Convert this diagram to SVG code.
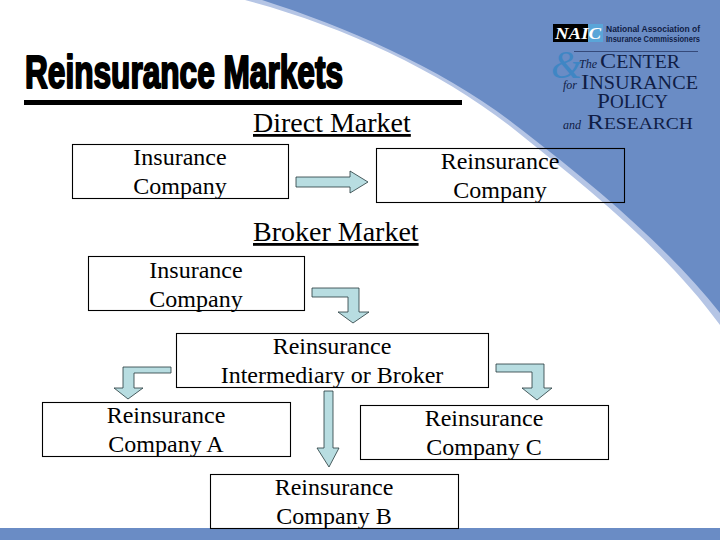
<svg xmlns="http://www.w3.org/2000/svg" width="720" height="540" viewBox="0 0 720 540">
<style>
.box{fill:none;stroke:#000;stroke-width:1.1}
.t{font-family:"Liberation Serif","Times New Roman",serif;font-size:24px;fill:#000;text-anchor:middle}
.h{font-family:"Liberation Serif","Times New Roman",serif;font-size:28px;fill:#000;text-decoration:underline}
.arrow{fill:#b8dde1;stroke:#24393b;stroke-width:.8}
.logo{font-family:"Liberation Serif","Times New Roman",serif;fill:#101d45}
.sm{font-family:"Liberation Sans",Arial,sans-serif;font-size:9px;font-weight:bold;fill:#101d45}
</style>
<rect width="720" height="540" fill="#fff"/>
<g id="background">
<path d="M245 0C340 25 440 70 515 130C590 190 665 250 720 325V0Z" fill="#b5c5e5"/>
<path d="M262 0C350 28 450 72 522 130C600 190 670 250 720 313V0Z" fill="#6a8cc5"/>
<rect x="0" y="528" width="720" height="12" fill="#6a8cc5"/>
</g>
<g id="title">
<text x="25" y="88" font-family="'Liberation Sans Narrow','Liberation Sans',Arial,sans-serif" font-weight="bold" font-size="47" textLength="318" lengthAdjust="spacingAndGlyphs" stroke="#000" stroke-width="2.2" stroke-linejoin="round">Reinsurance Markets</text>
<rect x="24" y="100" width="438" height="5" fill="#000"/>
</g>
<g id="logo">
<rect x="553" y="24" width="35" height="18" fill="#000"/>
<rect x="588" y="24" width="15" height="18" fill="#5aa5d8"/>
<text x="555" y="39" font-family="'Liberation Serif',serif" font-size="17" font-weight="bold" font-style="italic" fill="#fff" textLength="46" lengthAdjust="spacingAndGlyphs">NAIC</text>
<text class="sm" x="606" y="32" textLength="94" lengthAdjust="spacingAndGlyphs">National Association of</text>
<text class="sm" x="606" y="42" textLength="94" lengthAdjust="spacingAndGlyphs">Insurance Commissioners</text>
<path d="M574 51.500H698" stroke="#101d45" stroke-width=".6" fill="none"/>
<text x="551" y="78" font-family="'Liberation Serif',serif" font-size="40" font-style="italic" fill="#3f86c4">&amp;</text>
<text class="logo" x="579" y="68" font-size="12" font-style="italic">The</text>
<text class="logo" x="600" y="68" font-size="18" textLength="80" lengthAdjust="spacingAndGlyphs"><tspan font-size="22">C</tspan>ENTER</text>
<text class="logo" x="563" y="89" font-size="12" font-style="italic">for</text>
<text class="logo" x="581" y="89" font-size="18" textLength="117" lengthAdjust="spacingAndGlyphs"><tspan font-size="22">I</tspan>NSURANCE</text>
<text class="logo" x="597" y="108" font-size="18" textLength="71" lengthAdjust="spacingAndGlyphs"><tspan font-size="22">P</tspan>OLICY</text>
<text class="logo" x="563" y="129" font-size="12" font-style="italic">and</text>
<text class="logo" x="587" y="129" font-size="17" textLength="106" lengthAdjust="spacingAndGlyphs"><tspan font-size="22">R</tspan>ESEARCH</text>
</g>
<g id="heading-direct"><text class="h" x="253" y="132">Direct Market</text></g>
<g id="heading-broker"><text class="h" x="253" y="241">Broker Market</text></g>
<g id="connectors">
<path class="arrow" d="M296 177H350V171L368 182L350 193V187H296Z"/>
<path class="arrow" d="M312 288H359V312H369L353 323L338 312H348V297H312Z"/>
<path class="arrow" d="M171 367H123V388H114L128 399L143 388H134V373H171Z"/>
<path class="arrow" d="M324 391H333V448H339L329 467L317 448H324Z"/>
<path class="arrow" d="M496 364H544V388H552L537 400L522 388H532V372H496Z"/>
</g>
<g id="node-insurance-direct"><rect class="box" x="72.500" y="144.500" width="216" height="54"/><text class="t" x="180" y="165">Insurance</text><text class="t" x="180" y="194">Company</text></g>
<g id="node-reinsurance-direct"><rect class="box" x="376.500" y="148.500" width="248" height="54"/><text class="t" x="500" y="169">Reinsurance</text><text class="t" x="500" y="198">Company</text></g>
<g id="node-insurance-broker"><rect class="box" x="88.500" y="256.500" width="216" height="54"/><text class="t" x="196" y="278">Insurance</text><text class="t" x="196" y="307">Company</text></g>
<g id="node-intermediary"><rect class="box" x="176.500" y="333.500" width="312" height="54"/><text class="t" x="332" y="354">Reinsurance</text><text class="t" x="332" y="383">Intermediary or Broker</text></g>
<g id="node-company-a"><rect class="box" x="42.500" y="402.500" width="248" height="54"/><text class="t" x="166" y="423">Reinsurance</text><text class="t" x="166" y="452">Company A</text></g>
<g id="node-company-c"><rect class="box" x="360.500" y="405.500" width="248" height="54"/><text class="t" x="484" y="426">Reinsurance</text><text class="t" x="484" y="455">Company C</text></g>
<g id="node-company-b"><rect class="box" x="210.500" y="474.500" width="248" height="54"/><text class="t" x="334" y="495">Reinsurance</text><text class="t" x="334" y="524">Company B</text></g>
</svg>
